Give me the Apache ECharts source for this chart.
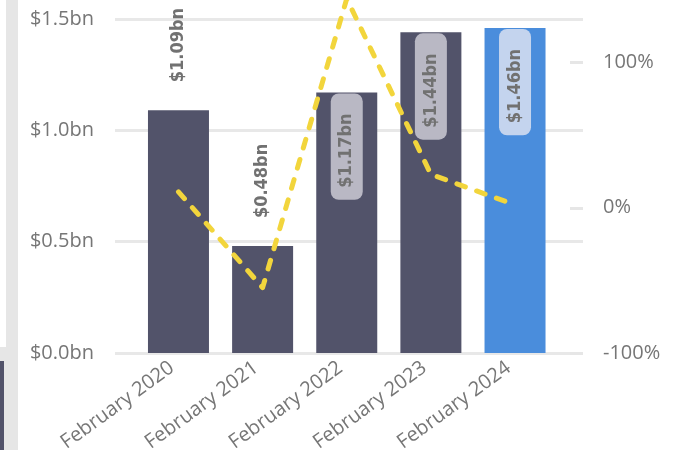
<!DOCTYPE html>
<html>
<head>
<meta charset="utf-8">
<script src="https://cdn.jsdelivr.net/npm/echarts@6/dist/echarts.min.js"></script>
<style>
  html, body { margin: 0; padding: 0; background: #fff; }
  #chart { width: 678px; height: 450px; }
</style>
</head>
<body>
<div id="chart"></div>
<script>
const categories = ['February 2020', 'February 2021', 'February 2022', 'February 2023', 'February 2024']
const revenueBn = [1.09, 0.48, 1.17, 1.44, 1.46]
const growthPct = [11, -55, 144, 23, 2]
const leftTicks = [0, 0.5, 1.0, 1.5]
const rightTicks = [-100, 0, 100]

const barDark = '#52536a'
const barBlue = '#4a8ddc'
const labelFont = { fontFamily: 'DejaVu Sans Condensed', fontWeight: 'bold', fontSize: 18, color: '#717171' }

const chart = echarts.init(document.getElementById('chart'))

const barData = revenueBn.map((v, i) => {
  const item = { value: v, itemStyle: { color: i === revenueBn.length - 1 ? barBlue : barDark } }
  if (i < 2) {
    // tall enough bars keep the label inside, the first two sit above
    item.label = { position: 'top', distance: 28, align: 'left', verticalAlign: 'middle' }
  } else {
    item.label = {
      position: 'insideTop', distance: 1, align: 'right', verticalAlign: 'middle',
      backgroundColor: i === revenueBn.length - 1 ? '#c4d4ee' : '#b9b8c4',
      borderRadius: 8, lineHeight: 18, padding: [7, 20, 7, 12]
    }
  }
  return item
})

chart.setOption({
  animation: false,
  graphic: [
    { type: 'rect', shape: { x: 6, y: 0, width: 12, height: 450 }, style: { fill: '#e6e6e6' } },
    { type: 'rect', shape: { x: 0, y: 347, width: 6, height: 103 }, style: { fill: '#e6e6e6' } },
    { type: 'rect', shape: { x: 0, y: 361, width: 4, height: 89 }, style: { fill: barDark } }
  ],
  grid: [
    { left: 115, right: 95, top: 19, bottom: 97, outerBoundsMode: 'none', containLabel: false },
    { left: 136.4, right: 120.9, top: 19, bottom: 97, outerBoundsMode: 'none', containLabel: false }
  ],
  xAxis: [
    { gridIndex: 0, type: 'value', min: 0, max: 1, show: false },
    {
      gridIndex: 1, type: 'category', data: categories,
      axisLine: { show: false }, axisTick: { show: false },
      axisLabel: {
        interval: 0, rotate: 36, margin: 8, padding: [0, 8, 0, 0],
        fontFamily: 'Open Sans', fontSize: 20, color: '#767676'
      }
    }
  ],
  yAxis: [
    {
      gridIndex: 0, type: 'value', min: 0, max: 1.5, interval: 0.5,
      axisLine: { show: false }, axisTick: { show: false },
      axisLabel: {
        margin: 21, fontFamily: 'Open Sans', fontSize: 20, color: '#767676',
        formatter: v => leftTicks.indexOf(v) >= 0 ? '$' + v.toFixed(1) + 'bn' : ''
      },
      splitLine: { lineStyle: { color: '#e8e8e8', width: 3 } }
    },
    { gridIndex: 1, type: 'value', min: 0, max: 1.5, show: false },
    {
      gridIndex: 1, type: 'value', position: 'right', offset: 25.9,
      min: -100, max: 130, interval: 100,
      axisLine: { show: false },
      axisTick: { show: true, inside: true, length: 13, lineStyle: { color: '#e6e6e6', width: 3 } },
      axisLabel: {
        margin: 20, showMaxLabel: false, fontFamily: 'Open Sans', fontSize: 20, color: '#767676',
        formatter: v => rightTicks.indexOf(v) >= 0 ? v + '%' : ''
      },
      splitLine: { show: false }
    }
  ],
  series: [
    {
      type: 'bar', xAxisIndex: 1, yAxisIndex: 1,
      data: barData, barWidth: 61,
      label: Object.assign({
        show: true, rotate: 90,
        formatter: p => '$' + p.value.toFixed(2) + 'bn'
      }, labelFont)
    },
    {
      type: 'line', xAxisIndex: 1, yAxisIndex: 2,
      data: growthPct, clip: false, symbol: 'none', z: 5,
      lineStyle: { color: '#f2d53c', width: 5, type: [9, 12], cap: 'round', join: 'round' }
    }
  ]
})
</script>
</body>
</html>
